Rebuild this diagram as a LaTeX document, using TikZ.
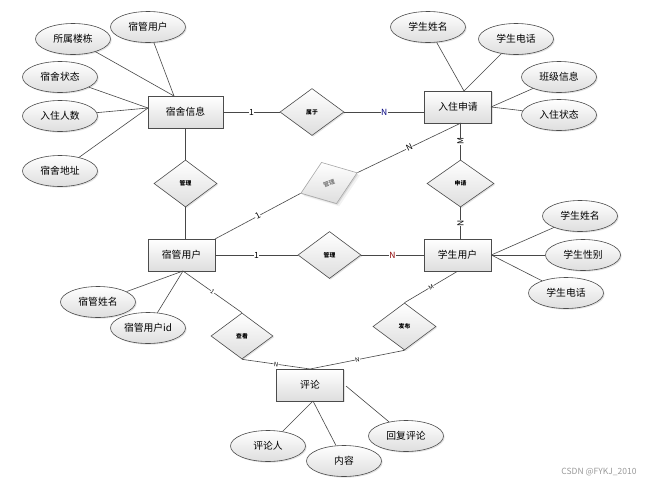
\documentclass[tikz,border=0pt]{standalone}
\usepackage{fontspec}
\setmainfont{Noto Sans CJK SC}
\usetikzlibrary{shapes.geometric,shadows}
\begin{document}
\begin{tikzpicture}[x=1pt,y=-1pt,
  shade/.style={top color=white, bottom color=black!13},
  shad/.style={drop shadow={opacity=0.22, shadow xshift=1.2pt, shadow yshift=-1.2pt}},
  ent/.style={draw=black!70, line width=0.6pt, shade, shad, minimum width=67pt, minimum height=32pt, inner sep=0pt, font=\fontsize{9.8}{10}\selectfont},
  attr/.style={ellipse, draw=black!70, line width=0.6pt, shade, shad, minimum width=75pt, minimum height=31pt, inner sep=0pt, font=\fontsize{9.8}{10}\selectfont},
  rel/.style={diamond, draw=black!70, line width=0.6pt, shade, shad, minimum width=64pt, minimum height=47pt, inner sep=0pt, font=\fontsize{5.8}{6}\selectfont\bfseries},
  conn/.style={draw=black!72, line width=0.6pt},
  card/.style={fill=white, inner sep=0.4pt, font=\fontsize{8.5}{9}\selectfont},
  smallcard/.style={card, sloped, font=\fontsize{6}{6}\selectfont},
]
\useasboundingbox[fill=white] (0,0) rectangle (649,483);

% entities
\node[ent, minimum width=75pt] (info) at (185.5,112) {宿舍信息};
\node[ent] (apply) at (458,107) {入住申请};
\node[ent] (admin) at (181.5,255) {宿管用户};
\node[ent] (student) at (457.5,255) {学生用户};
\node[ent] (comment) at (310,385) {评论};

% attributes
\node[attr] (a1) at (73,39) {所属楼栋};
\node[attr] (a2) at (148,27) {宿管用户};
\node[attr] (a3) at (60,77) {宿舍状态};
\node[attr] (a4) at (60,116) {入住人数};
\node[attr] (a5) at (60,171) {宿舍地址};
\node[attr] (b1) at (428,27) {学生姓名};
\node[attr] (b2) at (516,39) {学生电话};
\node[attr] (b3) at (559,77) {班级信息};
\node[attr] (b4) at (559,115) {入住状态};
\node[attr] (c1) at (580,216) {学生姓名};
\node[attr] (c2) at (583,255) {学生性别};
\node[attr] (c3) at (566,293) {学生电话};
\node[attr] (d1) at (98,302) {宿管姓名};
\node[attr] (d2) at (148,328) {宿管用户id};
\node[attr] (e1) at (268,446) {评论人};
\node[attr] (e2) at (344,461) {内容};
\node[attr] (e3) at (406,436) {回复评论};

% relationships
\node[rel] (r1) at (312,112) {属于};
\node[rel, minimum width=63pt] (r2) at (185.5,183.5) {管理};
\node[rel, draw=black!35, text=black!50, rotate=20, minimum width=60pt, minimum height=44pt, drop shadow={opacity=0.1}] (r3) at (329,183) {管理};
\node[rel, minimum width=67pt] (r4) at (460.5,183.5) {申请};
\node[rel, minimum width=63pt] (r5) at (329.5,255) {管理};
\node[rel, minimum width=62pt, minimum height=46pt] (r6) at (242,336) {查看};
\node[rel, minimum width=63pt] (r7) at (404.5,326.5) {发布};

% anchor coordinates
\coordinate (infoTop) at (174,96);
\coordinate (infoLeft) at (148,108);
\coordinate (applyTop) at (464,91);
\coordinate (applyRight) at (491,107);
\coordinate (applyBot) at (461,123);
\coordinate (adminBot) at (183,271);
\coordinate (adminTopR) at (215,239);
\coordinate (commTop) at (310,369);
\coordinate (commBot) at (313,401);
\coordinate (commRight) at (346,386);
\coordinate (infoBot) at (185.5,128);
\coordinate (adminTop) at (185.5,239);

% attribute lines
\draw[conn] (a1) -- (infoTop);
\draw[conn] (a2) -- (infoTop);
\draw[conn] (a3) -- (infoLeft);
\draw[conn] (a4) -- (infoLeft);
\draw[conn] (a5) -- (infoLeft);
\draw[conn] (b1) -- (applyTop);
\draw[conn] (b2) -- (applyTop);
\draw[conn] (b3) -- (applyRight);
\draw[conn] (b4) -- (applyRight);
\draw[conn] (c1) -- (student.east);
\draw[conn] (c2) -- (student.east);
\draw[conn] (c3) -- (student.east);
\draw[conn] (d1) -- (adminBot);
\draw[conn] (d2) -- (adminBot);
\draw[conn] (e1) -- (commBot);
\draw[conn] (e2) -- (commBot);
\draw[conn] (e3) -- (commRight);

% relationship lines
\draw[conn] (info.east) -- node[card] {1} (r1.west);
\draw[conn] (r1.east) -- node[card, text=blue!50!black] {N} (r1.east -| apply.west);
\draw[conn] (infoBot) -- (r2.north);
\draw[conn] (r2.south) -- (adminTop);
\draw[conn] (adminTopR) -- node[card, sloped] {1} (r3.west);
\draw[conn] (r3.east) -- node[card, sloped] {N} (applyBot);
\draw[conn] (apply.south -| r4.north) -- node[card, rotate=90] {M} (r4.north);
\draw[conn] (r4.south) -- node[card, rotate=90] {N} (student.north -| r4.south);
\draw[conn] (admin.east) -- node[card] {1} (r5.west);
\draw[conn] (r5.east) -- node[card, text=red!55!black] {N} (student.west);
\draw[conn] (adminBot) -- node[smallcard] {1} (r6.north);
\draw[conn] (r6.south) -- node[smallcard] {N} (commTop);
\draw[conn] (student.south) -- node[smallcard] {M} (r7.north);
\draw[conn] (r7.south) -- node[smallcard] {N} (commTop);

% watermark
\node[text=black!40, font=\fontsize{8.5}{9}\selectfont, anchor=east] (wm) at (640,472) {CSDN @FYKJ\_2010};
\end{tikzpicture}
\end{document}
